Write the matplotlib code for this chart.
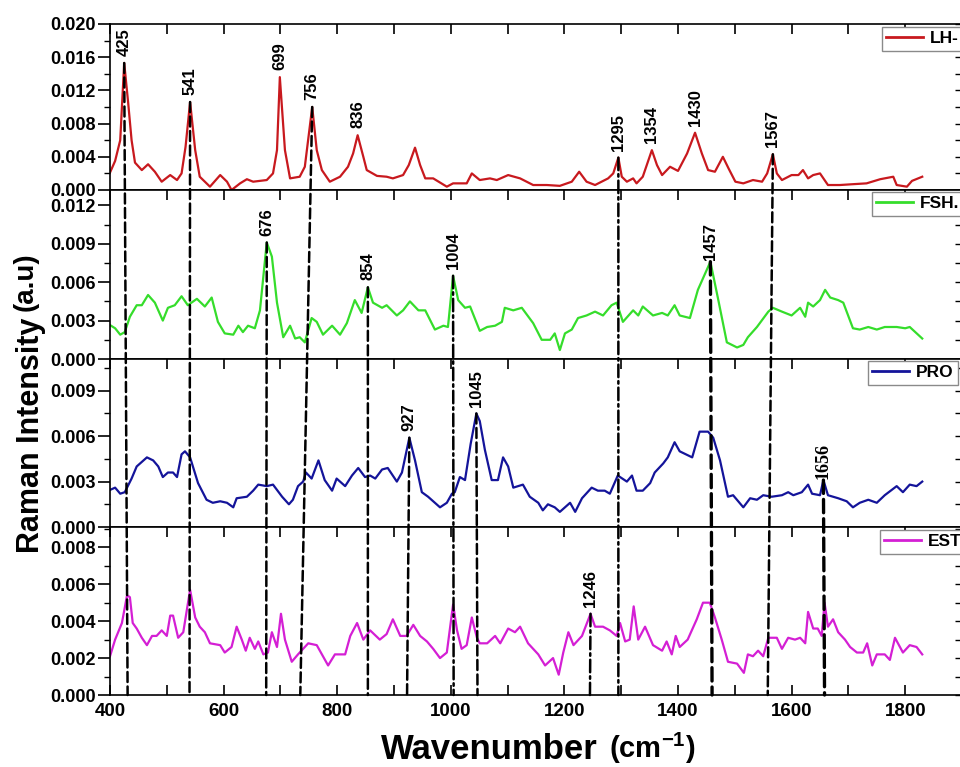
import numpy as np
import matplotlib
matplotlib.use("Agg")
import matplotlib.pyplot as plt
from matplotlib.patches import ConnectionPatch
from matplotlib.lines import Line2D
from matplotlib.ticker import MultipleLocator, FormatStrFormatter

plt.rcParams['font.family'] = ['Liberation Sans', 'DejaVu Sans']
plt.rcParams['font.weight'] = 'bold'
plt.rcParams['mathtext.fontset'] = 'custom'
plt.rcParams['mathtext.rm'] = 'Liberation Sans:bold'
plt.rcParams['mathtext.bf'] = 'Liberation Sans:bold'
plt.rcParams['axes.linewidth'] = 1.2

# ---- spectra (wavenumber in cm-1, intensity in a.u.) ----
lh_wn = [400, 409, 418, 425, 432, 438, 444, 456, 467, 479, 491, 506, 518, 526, 533,
         541, 550, 558, 576, 594, 606, 614, 629, 641, 652, 676, 687, 694, 699, 708,
         717, 734, 743, 756, 764, 773, 787, 805, 819, 828, 836, 846, 852, 870, 887,
         898, 916, 926, 937, 946, 955, 969, 993, 1004, 1028, 1037, 1051, 1069, 1081,
         1101, 1122, 1145, 1169, 1192, 1213, 1226, 1239, 1254, 1277, 1286, 1295, 1301,
         1310, 1321, 1327, 1338, 1345, 1354, 1363, 1372, 1386, 1400, 1416, 1430, 1442,
         1453, 1465, 1479, 1489, 1501, 1515, 1532, 1548, 1557, 1567, 1574, 1583, 1600,
         1612, 1620, 1629, 1638, 1650, 1664, 1685, 1708, 1732, 1756, 1779, 1785, 1803,
         1812, 1830]
lh_int = [0.0021, 0.0035, 0.0060, 0.0153, 0.0105, 0.0060, 0.0033, 0.0024, 0.0031, 0.0022,
          0.0010, 0.0018, 0.0012, 0.0020, 0.0052, 0.0106, 0.0048, 0.0016, 0.0004, 0.0018,
          0.0010, 0.0000, 0.0008, 0.0013, 0.0010, 0.0012, 0.0020, 0.0048, 0.0136, 0.0048,
          0.0014, 0.0016, 0.0028, 0.0100, 0.0048, 0.0024, 0.0010, 0.0016, 0.0028, 0.0044,
          0.0066, 0.0040, 0.0024, 0.0017, 0.0016, 0.0014, 0.0018, 0.0030, 0.0051, 0.0030,
          0.0014, 0.0014, 0.0004, 0.0008, 0.0008, 0.0020, 0.0012, 0.0014, 0.0012, 0.0018,
          0.0014, 0.0006, 0.0006, 0.0005, 0.0010, 0.0022, 0.0010, 0.0006, 0.0014, 0.0020,
          0.0039, 0.0016, 0.0010, 0.0014, 0.0008, 0.0016, 0.0030, 0.0048, 0.0030, 0.0018,
          0.0028, 0.0023, 0.0044, 0.0069, 0.0044, 0.0024, 0.0022, 0.0040, 0.0026, 0.0010,
          0.0008, 0.0012, 0.0010, 0.0020, 0.0043, 0.0020, 0.0012, 0.0018, 0.0018, 0.0024,
          0.0014, 0.0018, 0.0020, 0.0006, 0.0006, 0.0007, 0.0008, 0.0013, 0.0016, 0.0006,
          0.0004, 0.0011, 0.0016]

fsh_wn = [400, 409, 418, 426, 435, 447, 456, 467, 479, 493, 502, 514, 526, 537, 553,
          567, 579, 590, 602, 617, 626, 634, 643, 655, 664, 676, 685, 694, 705, 717,
          726, 734, 743, 755, 764, 775, 791, 805, 817, 831, 843, 854, 863, 879, 887,
          905, 916, 928, 943, 955, 972, 987, 995, 1004, 1013, 1025, 1034, 1051, 1064,
          1078, 1090, 1095, 1110, 1125, 1145, 1160, 1175, 1183, 1192, 1201, 1213, 1224,
          1239, 1254, 1268, 1283, 1292, 1303, 1321, 1330, 1338, 1356, 1372, 1382, 1394,
          1403, 1421, 1435, 1457, 1471, 1486, 1504, 1515, 1523, 1539, 1559, 1567, 1583,
          1600, 1615, 1624, 1629, 1638, 1650, 1659, 1668, 1682, 1691, 1708, 1720, 1735,
          1750, 1764, 1785, 1800, 1808, 1830]
fsh_int = [0.00265, 0.0024, 0.0019, 0.0021, 0.0033, 0.0042, 0.0042, 0.0050, 0.0044, 0.0030,
           0.0040, 0.0042, 0.0049, 0.0042, 0.0047, 0.0041, 0.0048, 0.0029, 0.0020, 0.0019,
           0.0026, 0.0021, 0.0026, 0.0024, 0.0038, 0.0091, 0.0080, 0.0044, 0.0017, 0.0026,
           0.0016, 0.0017, 0.0013, 0.0032, 0.0029, 0.0019, 0.0026, 0.0019, 0.0028, 0.0046,
           0.0036, 0.0056, 0.0044, 0.0040, 0.0042, 0.0034, 0.0038, 0.0045, 0.0038, 0.0038,
           0.0023, 0.0026, 0.0025, 0.0065, 0.0046, 0.0040, 0.0041, 0.0022, 0.0025, 0.0026,
           0.0029, 0.0040, 0.0038, 0.0040, 0.0028, 0.0015, 0.0015, 0.0020, 0.0007, 0.0020,
           0.0023, 0.0032, 0.0034, 0.0037, 0.0034, 0.0042, 0.0044, 0.0029, 0.0038, 0.0034,
           0.0041, 0.0034, 0.0036, 0.0034, 0.0042, 0.0034, 0.0032, 0.0054, 0.0076, 0.0046,
           0.0013, 0.0009, 0.0011, 0.0017, 0.0025, 0.0037, 0.0040, 0.0037, 0.0034, 0.0040,
           0.0033, 0.0044, 0.0041, 0.0046, 0.0054, 0.0048, 0.0046, 0.0044, 0.0024, 0.0023,
           0.0025, 0.0023, 0.0025, 0.0025, 0.0024, 0.0025, 0.0016]

pro_wn = [400, 409, 418, 426, 438, 447, 465, 476, 485, 493, 502, 511, 518, 526, 532,
          541, 555, 570, 581, 594, 606, 617, 623, 641, 652, 661, 676, 687, 703, 715,
          722, 731, 740, 745, 755, 767, 778, 791, 799, 814, 826, 837, 849, 858, 867,
          879, 889, 905, 914, 927, 937, 949, 960, 969, 981, 993, 1002, 1007, 1016, 1025,
          1035, 1045, 1051, 1060, 1072, 1083, 1092, 1101, 1110, 1127, 1139, 1154, 1162,
          1171, 1183, 1192, 1210, 1219, 1231, 1248, 1259, 1271, 1280, 1294, 1310, 1319,
          1327, 1338, 1351, 1359, 1374, 1382, 1394, 1403, 1425, 1438, 1453, 1462, 1474,
          1488, 1497, 1515, 1527, 1539, 1550, 1565, 1583, 1594, 1603, 1618, 1629, 1636,
          1650, 1656, 1664, 1682, 1697, 1708, 1720, 1735, 1750, 1764, 1785, 1796, 1808,
          1820, 1830]
pro_int = [0.00245, 0.0026, 0.0022, 0.0023, 0.0032, 0.0040, 0.0046, 0.0044, 0.0040, 0.0033,
           0.0036, 0.0036, 0.0033, 0.0048, 0.0050, 0.0046, 0.0029, 0.0018, 0.0016, 0.0017,
           0.0016, 0.0013, 0.0019, 0.0020, 0.0024, 0.0028, 0.0027, 0.0028, 0.0020, 0.0015,
           0.0018, 0.0027, 0.0030, 0.0036, 0.0032, 0.0044, 0.0031, 0.0024, 0.0032, 0.0027,
           0.0034, 0.0039, 0.0033, 0.0034, 0.0032, 0.0038, 0.0039, 0.0030, 0.0036, 0.0059,
           0.0044, 0.0023, 0.0020, 0.0017, 0.0013, 0.0016, 0.0022, 0.0023, 0.0033, 0.0031,
           0.0055, 0.0075, 0.0070, 0.0051, 0.0031, 0.0031, 0.0046, 0.0040, 0.0026, 0.0028,
           0.0020, 0.0016, 0.0011, 0.0015, 0.0013, 0.0010, 0.0016, 0.0010, 0.0019, 0.0026,
           0.0024, 0.0024, 0.0022, 0.0034, 0.0030, 0.0034, 0.0024, 0.0024, 0.0029, 0.0036,
           0.0042, 0.0046, 0.0056, 0.0050, 0.0046, 0.0063, 0.0063, 0.0059, 0.0044, 0.0020,
           0.0021, 0.0013, 0.0019, 0.0018, 0.0021, 0.0020, 0.0021, 0.0023, 0.0021, 0.0023,
           0.0028, 0.0022, 0.0021, 0.0031, 0.0021, 0.0019, 0.0017, 0.0013, 0.0016, 0.0018,
           0.0016, 0.0021, 0.0027, 0.0023, 0.0028, 0.0027, 0.0030]

est_wn = [400, 409, 421, 430, 435, 440, 447, 456, 465, 474, 482, 491, 500, 506, 511,
          520, 529, 541, 550, 558, 567, 576, 594, 602, 614, 623, 632, 639, 646, 655,
          661, 670, 678, 685, 694, 701, 708, 720, 731, 740, 749, 764, 773, 784, 796,
          814, 823, 835, 846, 858, 875, 887, 898, 911, 922, 934, 946, 958, 969, 981,
          993, 1004, 1011, 1019, 1028, 1037, 1046, 1051, 1064, 1078, 1087, 1101, 1113,
          1122, 1136, 1154, 1166, 1180, 1190, 1198, 1207, 1216, 1231, 1246, 1254, 1268,
          1280, 1292, 1298, 1307, 1315, 1322, 1330, 1342, 1356, 1372, 1380, 1389, 1396,
          1403, 1417, 1433, 1444, 1456, 1465, 1477, 1488, 1504, 1516, 1523, 1532, 1541,
          1550, 1559, 1574, 1583, 1594, 1606, 1615, 1624, 1629, 1638, 1646, 1653, 1658,
          1664, 1673, 1682, 1694, 1703, 1715, 1726, 1733, 1742, 1750, 1764, 1773, 1782,
          1796, 1808, 1820, 1830]
est_int = [0.0021, 0.0030, 0.0039, 0.0054, 0.0053, 0.0039, 0.0036, 0.0031, 0.0027, 0.0032,
           0.0032, 0.0035, 0.0032, 0.0043, 0.0043, 0.0031, 0.0034, 0.0057, 0.0042, 0.0037,
           0.0034, 0.0028, 0.0027, 0.0023, 0.0026, 0.0037, 0.0030, 0.0024, 0.0031, 0.0025,
           0.0029, 0.0022, 0.0023, 0.0034, 0.0026, 0.0044, 0.0030, 0.0018, 0.0022, 0.0025,
           0.0028, 0.0027, 0.0022, 0.0016, 0.0022, 0.0022, 0.0032, 0.0039, 0.0030, 0.0035,
           0.0030, 0.0033, 0.0041, 0.0032, 0.0032, 0.0038, 0.0032, 0.0029, 0.0025, 0.0020,
           0.0023, 0.0049, 0.0035, 0.0025, 0.0027, 0.0042, 0.0031, 0.0028, 0.0028, 0.0032,
           0.0028, 0.0036, 0.0034, 0.0037, 0.0028, 0.0022, 0.0016, 0.0020, 0.0011, 0.0023,
           0.0034, 0.0027, 0.0032, 0.0044, 0.0037, 0.0037, 0.0035, 0.0032, 0.0039, 0.0029,
           0.0030, 0.0048, 0.0030, 0.0037, 0.0027, 0.0024, 0.0029, 0.0022, 0.0032, 0.0026,
           0.0030, 0.0041, 0.0050, 0.0050, 0.0042, 0.0030, 0.0018, 0.0017, 0.0012, 0.0022,
           0.0021, 0.0024, 0.0021, 0.0031, 0.0031, 0.0025, 0.0031, 0.0030, 0.0031, 0.0028,
           0.0045, 0.0036, 0.0036, 0.0032, 0.0050, 0.0037, 0.0041, 0.0034, 0.0030, 0.0026,
           0.0023, 0.0023, 0.0028, 0.0016, 0.0022, 0.0022, 0.0019, 0.0031, 0.0023, 0.0027,
           0.0026, 0.0022]

# labelled peak positions for each panel
lh_peaks = [425, 541, 699, 756, 836, 1295, 1354, 1430, 1567]
fsh_peaks = [676, 854, 1004, 1457]
pro_peaks = [927, 1045, 1656]
est_peaks = [1246]

# guide lines: (panel, peak wavenumber, wavenumber where it meets the bottom axis)
guide_lines = [(0, 425, 431), (0, 541, 540), (1, 676, 675), (0, 756, 735),
               (1, 854, 854), (2, 927, 923), (1, 1004, 1005), (2, 1045, 1047),
               (3, 1246, 1245), (0, 1295, 1295), (1, 1457, 1460), (0, 1567, 1558),
               (2, 1656, 1658)]

names = ['LH-', 'FSH.', 'PRO', 'EST']
colors = ['#c8191e', '#35dd2b', '#14149a', '#d41fd4']
ylims = [0.0200, 0.0132, 0.0111, 0.0091]
ysteps = [0.004, 0.003, 0.003, 0.002]
# legend frame top-left corner, in pixels
legend_px = [(882, 27), (872, 192), (868, 361), (880, 530)]

spectra = [(lh_wn, lh_int, lh_peaks), (fsh_wn, fsh_int, fsh_peaks),
           (pro_wn, pro_int, pro_peaks), (est_wn, est_int, est_peaks)]

W, H = 960, 767
fig = plt.figure(figsize=(W / 100, H / 100), dpi=100)
gs = fig.add_gridspec(4, 1, left=110 / W, right=962 / W, top=1 - 24 / H,
                      bottom=1 - 695 / H, hspace=0, height_ratios=[166, 169, 168, 168])
axes = [fig.add_subplot(gs[i]) for i in range(4)]

for i, ax in enumerate(axes):
    wn, inten, peaks = spectra[i]
    ax.plot(wn, inten, color=colors[i], lw=1.6)
    ax.set_xlim(400, 1900)
    ax.set_ylim(0, ylims[i])

    ax.xaxis.set_major_locator(MultipleLocator(200))
    ax.xaxis.set_minor_locator(MultipleLocator(100))
    ax.tick_params(axis='x', which='both', direction='in', top=True, bottom=(i == 3),
                   labelbottom=(i == 3), length=7, width=1.2, labelsize=13.5, pad=6)

    ax.yaxis.set_major_locator(MultipleLocator(ysteps[i]))
    ax.yaxis.set_minor_locator(MultipleLocator(ysteps[i] / 2))
    ax.yaxis.set_major_formatter(FormatStrFormatter('%.3f'))
    ax.tick_params(axis='y', which='major', direction='out', length=9, width=1.2,
                   labelsize=13, pad=1)
    ax.tick_params(axis='y', which='minor', direction='out', length=4, width=1.0)

    # right-hand axis: inward ticks, no labels
    sec = ax.secondary_yaxis('right')
    sec.yaxis.set_major_locator(MultipleLocator(ysteps[i]))
    sec.yaxis.set_minor_locator(MultipleLocator(ysteps[i] / 2))
    sec.tick_params(which='both', direction='in', length=5, width=1.0, labelright=False)

    for p in peaks:
        v = np.interp(p, wn, inten)
        if p == 1656:
            ax.annotate(str(p), xy=(p, v), xytext=(0, 1), textcoords='offset points',
                        rotation=90, ha='center', va='bottom', fontsize=13,
                        family='Liberation Serif', fontweight='bold')
        else:
            off = 1 if p == 1457 else 5
            ax.annotate(str(p), xy=(p, v), xytext=(0, off), textcoords='offset points',
                        rotation=90, ha='center', va='bottom', fontsize=12,
                        fontweight='bold')

    handle = Line2D([], [], color=colors[i], lw=2)
    lx, ly = legend_px[i]
    leg = ax.legend([handle], [names[i]], loc='upper left',
                    bbox_to_anchor=(lx / W, 1 - ly / H), bbox_transform=fig.transFigure,
                    fancybox=False, edgecolor='#8a8a8a', framealpha=1, borderpad=0.25,
                    borderaxespad=0, handlelength=2.1, handletextpad=0.4,
                    prop={'weight': 'bold', 'size': 12.5})
    leg.get_frame().set_linewidth(1.0)

# dashed guide lines running from each labelled peak down to the bottom axis
for panel, w0, w1 in guide_lines:
    wn, inten, _ = spectra[panel]
    v = np.interp(w0, wn, inten)
    style = (0, (4, 1.8))
    if w0 in (1004, 1246, 1295):
        style = (0, (5, 1.6, 1, 1.6))
    lw = 2.4 if w0 in (1457, 1656) else 1.8
    con = ConnectionPatch(xyA=(w0, v), coordsA='data', axesA=axes[panel],
                          xyB=(w1, 0), coordsB='data', axesB=axes[3],
                          color='black', lw=lw, linestyle=style)
    fig.add_artist(con)

# axis titles
fig.text(598 / W, 1 / H, 'Wavenumber', ha='right', va='bottom', fontsize=25,
         fontweight='bold')
fig.text(609 / W, 1 / H, r'(cm$^{-1}$)', ha='left', va='bottom', fontsize=21,
         fontweight='bold')
fig.text(31 / W, 1 - 553 / H, 'Raman Intensity', rotation=90, ha='center', va='bottom',
         fontsize=22, fontweight='bold')
fig.text(26 / W, 1 - 311 / H, '(a.u)', rotation=90, ha='center', va='bottom',
         fontsize=20, fontweight='bold')

fig.savefig('out.png', dpi=100)
